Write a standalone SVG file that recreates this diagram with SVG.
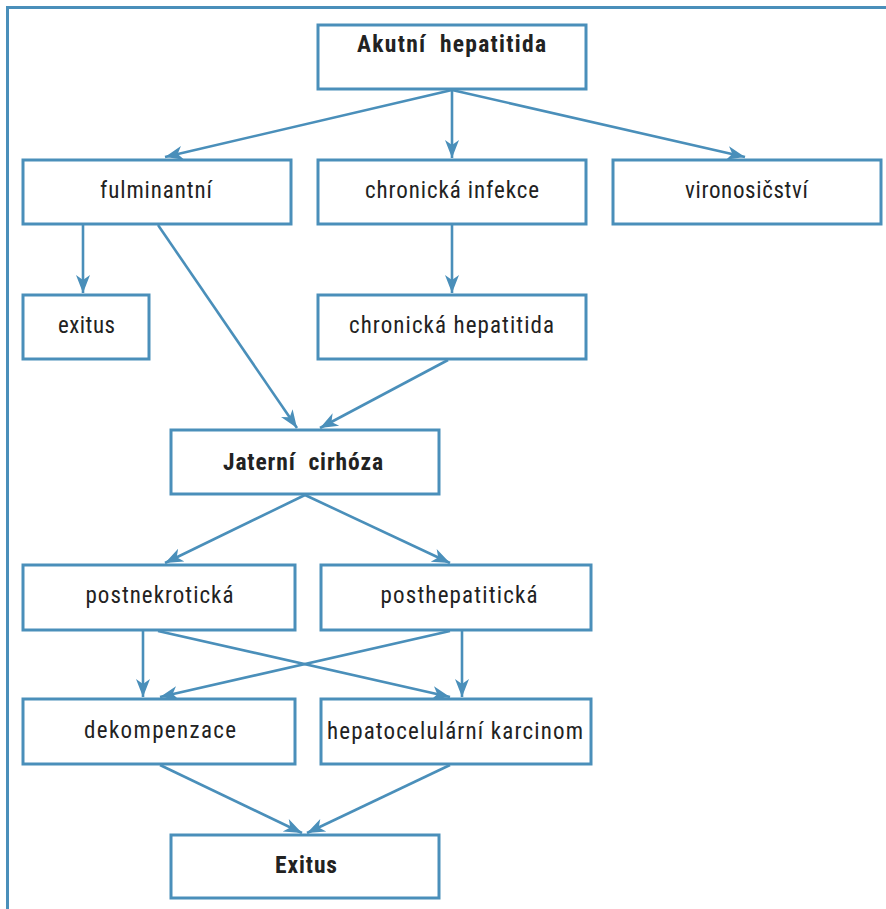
<svg xmlns="http://www.w3.org/2000/svg" width="886" height="909" viewBox="0 0 886 909">
<defs>
<marker id="ah" markerUnits="userSpaceOnUse" markerWidth="20" markerHeight="16" viewBox="0 0 20 16" refX="18" refY="8" orient="auto">
<path d="M0,1 L18,8 L0,15 L5,8 z" fill="#4a8fba"/>
</marker>
<style>
.box{fill:#fff;stroke:#4a8fba;stroke-width:3}
.t{font-family:"Liberation Sans Narrow","Roboto Condensed","DejaVu Sans Condensed","Liberation Sans",sans-serif;font-size:23px;fill:#222;text-anchor:middle;white-space:pre}
.b{font-weight:bold;font-size:23.5px}
.c{fill:none;stroke:#4a8fba;stroke-width:2.6;marker-end:url(#ah)}
.frame{fill:none;stroke:#4a8fba;stroke-width:3}
</style>
</defs>
<path class="frame" d="M7.5,909 V7.5 H886"/>
<g id="connectors">
<line class="c" x1="452" y1="90" x2="165" y2="157"/>
<line class="c" x1="452" y1="90" x2="452" y2="158"/>
<line class="c" x1="452" y1="90" x2="745" y2="157"/>
<line class="c" x1="83" y1="225" x2="83" y2="293"/>
<line class="c" x1="158" y1="225" x2="297" y2="428"/>
<line class="c" x1="452" y1="225" x2="452" y2="293"/>
<line class="c" x1="448" y1="360" x2="320" y2="428"/>
<line class="c" x1="305" y1="495" x2="165" y2="563"/>
<line class="c" x1="305" y1="495" x2="450" y2="563"/>
<line class="c" x1="143" y1="631" x2="143" y2="697"/>
<line class="c" x1="158" y1="631" x2="450" y2="697"/>
<line class="c" x1="462" y1="631" x2="462" y2="697"/>
<line class="c" x1="450" y1="631" x2="160" y2="697"/>
<line class="c" x1="160" y1="765" x2="302" y2="833"/>
<line class="c" x1="450" y1="765" x2="307" y2="833"/>
</g>
<g id="akutni"><rect class="box" x="318" y="25" width="268" height="64"/><text class="t b" x="451.5" y="52" textLength="189">Akutní  hepatitida</text></g>
<g id="fulminantni"><rect class="box" x="23" y="160" width="268" height="64"/><text class="t" x="156" y="198" textLength="112">fulminantní</text></g>
<g id="chronicka-infekce"><rect class="box" x="318" y="160" width="268" height="64"/><text class="t" x="452" y="198" textLength="174">chronická infekce</text></g>
<g id="vironosicstvi"><rect class="box" x="613" y="160" width="268" height="64"/><text class="t" x="746.5" y="198" textLength="123">vironosičství</text></g>
<g id="exitus"><rect class="box" x="23" y="295" width="126" height="64"/><text class="t" x="86.5" y="333" textLength="57">exitus</text></g>
<g id="chronicka-hepatitida"><rect class="box" x="318" y="295" width="268" height="64"/><text class="t" x="451.5" y="333" textLength="205">chronická hepatitida</text></g>
<g id="jaterni-cirhoza"><rect class="box" x="171" y="430" width="268" height="64"/><text class="t b" x="303" y="470" textLength="160">Jaterní  cirhóza</text></g>
<g id="postnekroticka"><rect class="box" x="23" y="565" width="272" height="65"/><text class="t" x="159.5" y="603" textLength="148">postnekrotická</text></g>
<g id="posthepatiticka"><rect class="box" x="321" y="565" width="270" height="65"/><text class="t" x="459" y="603" textLength="157">posthepatitická</text></g>
<g id="dekompenzace"><rect class="box" x="23" y="699" width="272" height="65"/><text class="t" x="160" y="738" textLength="152">dekompenzace</text></g>
<g id="hepatocelularni-karcinom"><rect class="box" x="321" y="699" width="270" height="65"/><text class="t" x="455" y="739" textLength="256">hepatocelulární karcinom</text></g>
<g id="exitus-final"><rect class="box" x="171" y="835" width="268" height="63"/><text class="t b" x="306" y="873" textLength="62">Exitus</text></g>
</svg>
